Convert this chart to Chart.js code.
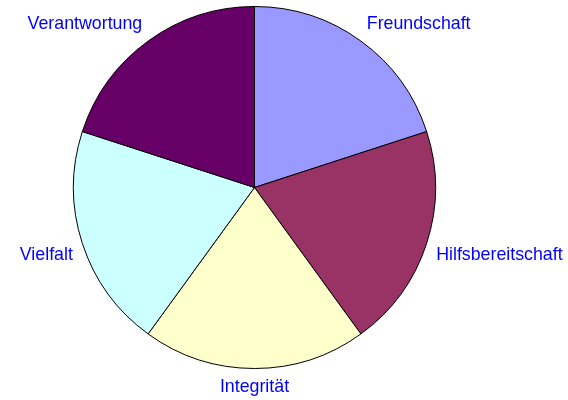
<!DOCTYPE html>
<html>
<head>
<meta charset="utf-8">
<script src="https://cdn.jsdelivr.net/npm/chart.js@4"></script>
<style>
  html, body { margin: 0; padding: 0; background: #ffffff; }
  #wrap { width: 568px; height: 400px; position: relative; }
</style>
</head>
<body>
<div id="wrap"><canvas id="c" width="568" height="400"></canvas></div>
<script>
const categories = ["Freundschaft", "Hilfsbereitschaft", "Integrität", "Vielfalt", "Verantwortung"];
const values = [20, 20, 20, 20, 20];
const sliceColors = ["#9999FF", "#993366", "#FFFFCC", "#CCFFFF", "#660066"];

const outsideLabels = {
  id: 'outsideLabels',
  afterDraw(chart) {
    const ctx = chart.ctx;
    const meta = chart.getDatasetMeta(0);
    ctx.save();
    ctx.font = '17.8px "Liberation Sans", Arial, sans-serif';
    ctx.fillStyle = '#0000FF';
    ctx.textAlign = 'center';
    ctx.textBaseline = 'middle';
    meta.data.forEach((arc, i) => {
      const p = arc.getProps(['x', 'y', 'startAngle', 'endAngle', 'outerRadius'], true);
      const mid = (p.startAngle + p.endAngle) / 2;
      const dx = Math.cos(mid), dy = Math.sin(mid);
      const R = p.outerRadius + 10;
      const ax = p.x + R * dx, ay = p.y + R * dy;
      const text = chart.data.labels[i];
      const w = ctx.measureText(text).width;
      const h = 18;
      const sx = Math.abs(dx) < 0.1 ? 0 : Math.sign(dx);
      const sy = Math.abs(dy) < 0.1 ? 0 : Math.sign(dy);
      ctx.fillText(text, ax + sx * w / 2, ay + sy * h / 2);
    });
    ctx.restore();
  }
};

new Chart(document.getElementById('c'), {
  type: 'pie',
  data: {
    labels: categories,
    datasets: [{
      data: values,
      backgroundColor: sliceColors,
      borderColor: '#000000',
      borderWidth: 1
    }]
  },
  options: {
    responsive: false,
    animation: false,
    layout: { padding: { left: 73, right: 132, top: 6, bottom: 31 } },
    plugins: {
      legend: { display: false },
      tooltip: { enabled: false }
    }
  },
  plugins: [outsideLabels]
});
</script>
</body>
</html>
